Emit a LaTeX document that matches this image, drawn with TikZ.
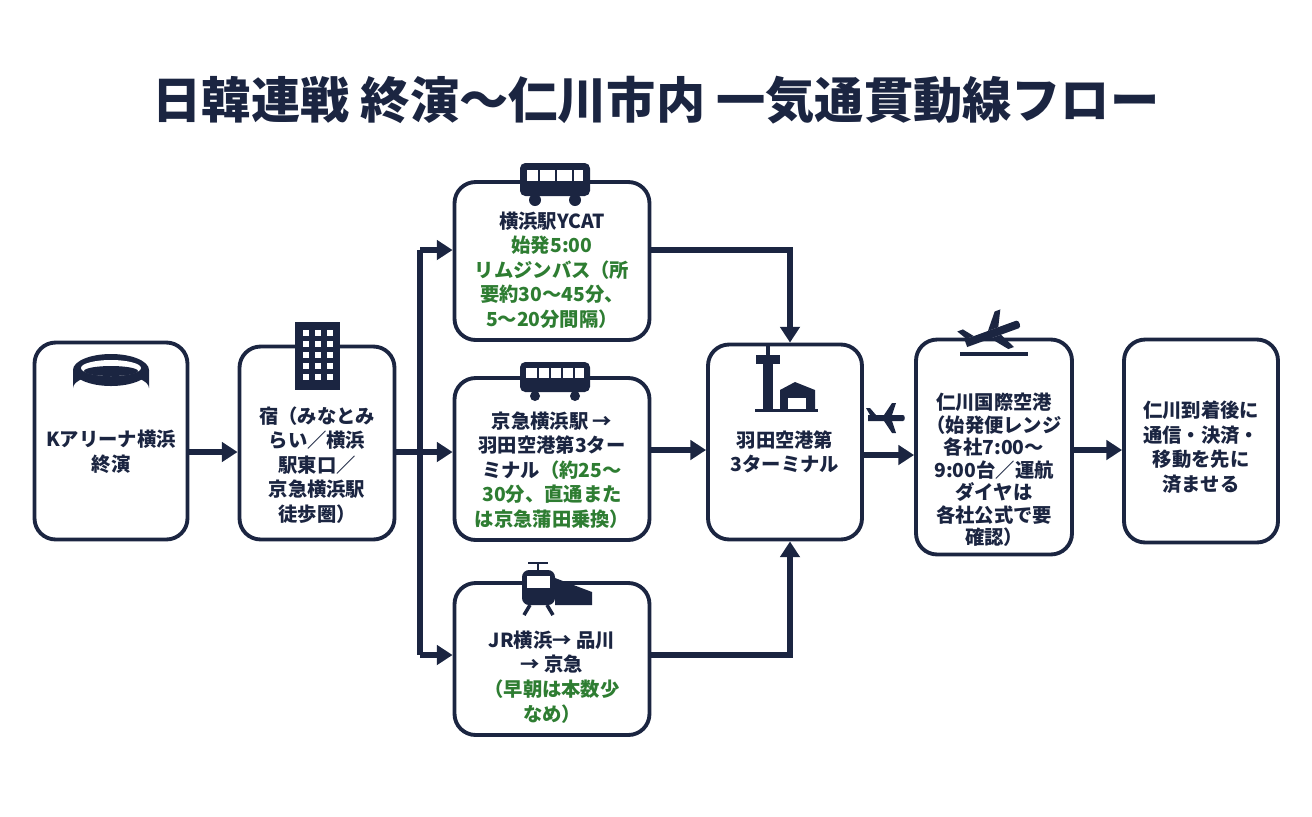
\documentclass[tikz,border=0pt]{standalone}
\usepackage{fontspec}
\setmainfont{Noto Sans CJK JP}
\usetikzlibrary{arrows.meta}
\definecolor{navy}{HTML}{1B2541}
\definecolor{grn}{HTML}{2E7D32}
\begin{document}
\begin{tikzpicture}[x=0.02cm,y=-0.02cm,
 box/.style={draw=navy,line width=2.2pt,rounded corners=12pt,fill=white,align=center,font=\bfseries\fontsize{11}{14}\selectfont,text=navy,inner sep=0pt},
 con/.style={draw=navy,line width=3pt},
 arr/.style={con,-{Triangle[length=9pt,width=11pt]}},
 ic/.style={fill=navy,draw=none}]
\useasboundingbox (0,0) rectangle (1312,816);
\node[font=\bfseries\fontsize{28}{32}\selectfont,text=navy] (title) at (656,100) {日韓連戦 終演〜仁川市内 一気通貫動線フロー};
\node[box,minimum width=3.06cm,minimum height=3.94cm] (b1) at (111,441) {};
\node[box,minimum width=3.1cm,minimum height=3.86cm] (b2) at (317,443) {};
\node[box,minimum width=3.9cm,minimum height=3.16cm] (b3) at (552,261) {};
\node[box,minimum width=3.9cm,minimum height=3.24cm] (b4) at (552,459) {};
\node[box,minimum width=3.9cm,minimum height=3.04cm] (b5) at (552,659) {};
\node[box,minimum width=3.08cm,minimum height=3.9cm] (b6) at (785,442) {};
\node[box,minimum width=3.12cm,minimum height=4.3cm] (b7) at (994,447) {};
\node[box,minimum width=3.08cm,minimum height=4.06cm] (b8) at (1201,441) {};
% texts
\node[box,draw=none,fill=none] (t1) at (111,452) {Kアリーナ横浜\\終演};
\node[box,draw=none,fill=none] (t2) at (317,465) {宿（みなとみ\\らい／横浜\\駅東口／\\京急横浜駅\\徒歩圏）};
\node[box,draw=none,fill=none] (t3) at (552,270) {横浜駅YCAT\\\textcolor{grn}{始発5:00}\\\textcolor{grn}{リムジンバス（所}\\\textcolor{grn}{要約30〜45分、}\\\textcolor{grn}{5〜20分間隔）}};
\node[box,draw=none,fill=none] (t4) at (552,470) {京急横浜駅 →\\羽田空港第3ター\\ミナル\textcolor{grn}{（約25〜}\\\textcolor{grn}{30分、直通また}\\\textcolor{grn}{は京急蒲田乗換）}};
\node[box,draw=none,fill=none] (t5) at (552,677) {JR横浜→ 品川\\→ 京急\\\textcolor{grn}{（早朝は本数少}\\\textcolor{grn}{なめ）}};
\node[box,draw=none,fill=none] (t6) at (785,452) {羽田空港第\\3ターミナル};
\node[box,draw=none,fill=none,font=\bfseries\fontsize{11}{12.8}\selectfont] (t7) at (994,470) {仁川国際空港\\（始発便レンジ\\各社7:00〜\\9:00台／運航\\ダイヤは\\各社公式で要\\確認）};
\node[box,draw=none,fill=none] (t8) at (1201,447) {仁川到着後に\\通信・決済・\\移動を先に\\済ませる};
% connectors
\coordinate (s) at (420,452);
\coordinate (st) at (420,250);
\coordinate (sb) at (420,655);
\draw[arr] (b1.east |- 0,452) -- (b2.west |- 0,452);
\draw[con] (b2.east |- s) -- (s);
\draw[con] (st) -- (sb);
\draw[arr] (st) -- (b3.west |- st);
\draw[arr] (s) -- (b4.west |- s);
\draw[arr] (sb) -- (b5.west |- sb);
\draw[arr] (b3.east |- 0,250) -| (b6.north -| 790,0);
\draw[arr] (b4.east |- 0,450) -- (b6.west |- 0,450);
\draw[arr] (b5.east |- 0,655) -| (b6.south -| 790,0);
\draw[arr] (b6.east |- 0,455) -- (b7.west |- 0,455);
\draw[arr] (b7.east |- 0,450) -- (b8.west |- 0,450);
% icons
\fill[navy] (73,370) -- (73,388) arc[start angle=180,end angle=360,x radius=38,y radius=14] -- (149,370) -- cycle;
\fill[navy] (111,370) ellipse (38 and 16);
\fill[white] (111,368) ellipse (30 and 8);
\fill[navy] (111,371) ellipse (27 and 5);
\fill[white] (104,387) rectangle (118,398);
\fill[navy] (295,322) rectangle (340,390);
\foreach \i in {0,1,2} \foreach \j in {0,...,4} \fill[white] (303+\i*12,330+\j*11) rectangle (309+\i*12,336+\j*11);
\fill[navy,rounded corners=3pt] (520,163) rectangle (590,196);
\fill[white] (527,170) rectangle (583,181);
\foreach \i in {538,555,572} \fill[navy] (\i,170) rectangle (\i+2,181);
\fill[navy] (535,200) circle (6); \fill[navy] (575,200) circle (6);
\fill[navy,rounded corners=3pt] (520,362) rectangle (590,392);
\fill[white] (526,368) rectangle (584,378);
\foreach \i in {537,549,561,573} \fill[navy] (\i,368) rectangle (\i+2,378);
\fill[navy] (535,396) circle (5); \fill[navy] (575,396) circle (5);
\fill[navy,rounded corners=4pt] (522,570) rectangle (555,605);
\fill[navy] (555,578) -- (592,592) -- (592,605) -- (555,605) -- cycle;
\fill[white] (527,576) rectangle (550,588);
\draw[navy,line width=2pt] (530,605) -- (524,615) (547,605) -- (553,615);
\draw[navy,line width=1.5pt] (528,563) -- (548,563) (538,563) -- (538,570);
\fill[navy] (780,410) -- (780,390) -- (795,382) -- (815,390) -- (815,410) -- cycle;
\fill[white] (788,398) rectangle (806,410);
\fill[navy] (763,362) rectangle (773,410);
\fill[navy] (756,355) rectangle (780,364);
\fill[navy] (766,345) rectangle (770,355);
\fill[navy] (755,409) rectangle (818,412);
\begin{scope}[shift={(888,418)}]
\fill[navy] (-20,-3) -- (15,-3) to[out=0,in=0] (15,3) -- (-20,3) -- cycle;
\fill[navy] (-4,-3) -- (4,-15) -- (8,-15) -- (4,-3) -- cycle;
\fill[navy] (-4,3) -- (4,15) -- (8,15) -- (4,3) -- cycle;
\fill[navy] (-18,-3) -- (-22,-10) -- (-18,-10) -- (-12,-3) -- cycle;
\end{scope}
\begin{scope}[shift={(994,333)},rotate=20]
\fill[navy] (-30,-4) -- (25,-4) to[out=0,in=0] (25,4) -- (-30,4) -- cycle;
\fill[navy] (-5,-4) -- (8,-20) -- (14,-20) -- (6,-4) -- cycle;
\fill[navy] (-5,4) -- (8,20) -- (14,20) -- (6,4) -- cycle;
\fill[navy] (-28,-4) -- (-34,-14) -- (-28,-14) -- (-20,-4) -- cycle;
\end{scope}
\fill[navy] (960,352) rectangle (1028,356);
\end{tikzpicture}
\end{document}
